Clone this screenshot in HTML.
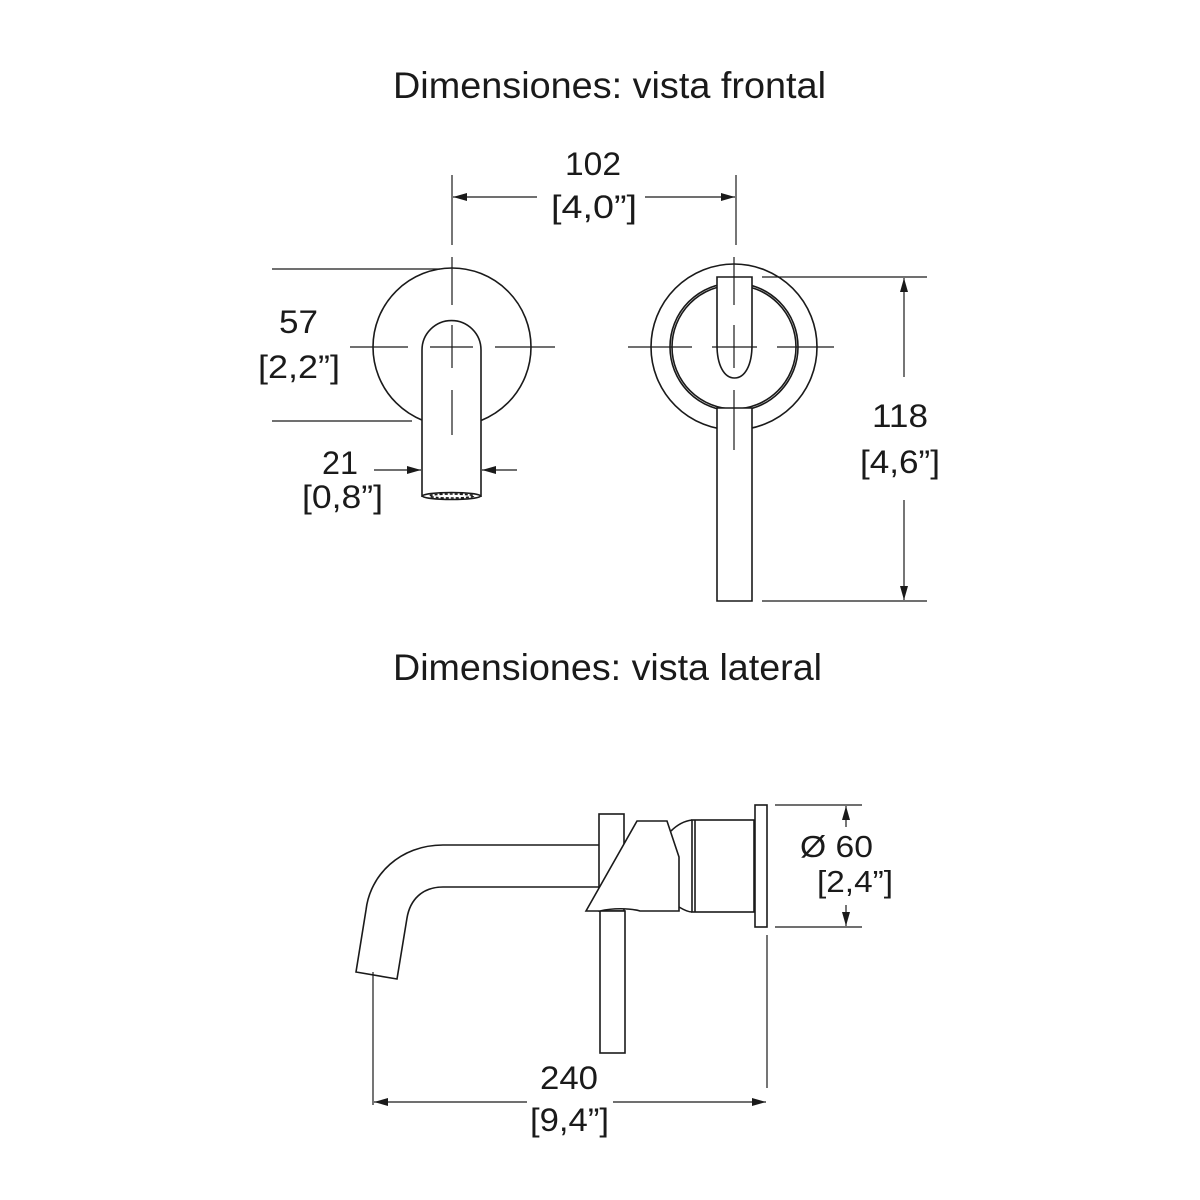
<!DOCTYPE html>
<html><head><meta charset="utf-8"><style>
html,body{margin:0;padding:0;background:#fff;}
svg{display:block;}
text{font-family:"Liberation Sans",Arial,sans-serif;fill:#1a1a1a;}
</style></head><body>
<svg width="1200" height="1200" viewBox="0 0 1200 1200" xmlns="http://www.w3.org/2000/svg">
<defs>
<marker id="a" viewBox="0 0 14 8" refX="14" refY="4" markerWidth="14" markerHeight="8" markerUnits="userSpaceOnUse" orient="auto">
<path d="M0,0 L14,4 L0,8 Z" fill="#1a1a1a"/></marker>
</defs>
<rect width="1200" height="1200" fill="#fff"/>
<g fill="none" stroke="#1a1a1a" stroke-width="1.6">
<!-- FRONT LEFT: spout -->
<circle cx="452" cy="347" r="79"/>
<path d="M422,497 L422,350 A29.5,29.5 0 0 1 481,350 L481,497" fill="#fff"/>
<ellipse cx="451.5" cy="496" rx="29" ry="3.5"/>
<ellipse cx="451.5" cy="496" rx="22" ry="2" stroke-dasharray="3 2"/>
<g stroke-width="1.2">
<line x1="452" y1="257" x2="452" y2="305"/><line x1="452" y1="325" x2="452" y2="368"/><line x1="452" y1="390" x2="452" y2="435"/>
<line x1="350" y1="347" x2="408" y2="347"/><line x1="430" y1="347" x2="473" y2="347"/><line x1="495" y1="347" x2="555" y2="347"/>
<line x1="272" y1="269" x2="440" y2="269"/><line x1="272" y1="421" x2="412" y2="421"/>
<line x1="374" y1="470" x2="421" y2="470" marker-end="url(#a)"/>
<line x1="517" y1="470" x2="482" y2="470" marker-end="url(#a)"/>
<!-- 102 -->
<line x1="452" y1="175" x2="452" y2="245"/><line x1="736" y1="175" x2="736" y2="245"/>
<line x1="537" y1="197" x2="453" y2="197" marker-end="url(#a)"/>
<line x1="645" y1="197" x2="735" y2="197" marker-end="url(#a)"/>
</g>
<!-- FRONT RIGHT: handle -->
<circle cx="734" cy="347" r="83"/>
<circle cx="734" cy="347" r="64"/>
<circle cx="734" cy="347" r="62"/>
<path d="M717,408 L752,408 L752,601 L717,601 Z" fill="#fff"/>
<path d="M717,277 L752,277 L752,345 C752,365 745,378 734.5,378 C724,378 717,365 717,345 Z" fill="#fff"/>
<g stroke-width="1.2">
<line x1="734" y1="257" x2="734" y2="305"/><line x1="734" y1="325" x2="734" y2="368"/><line x1="734" y1="390" x2="734" y2="450"/>
<line x1="628" y1="347" x2="692" y2="347"/><line x1="712" y1="347" x2="757" y2="347"/><line x1="777" y1="347" x2="834" y2="347"/>
<line x1="762" y1="277" x2="927" y2="277"/><line x1="762" y1="601" x2="927" y2="601"/>
<line x1="904" y1="377" x2="904" y2="278" marker-end="url(#a)"/>
<line x1="904" y1="500" x2="904" y2="600" marker-end="url(#a)"/>
</g>
<!-- SIDE VIEW -->
<path d="M599,845 L443,845 C400,845 370,875 366,910 L356,972 L397,979 L407,918 C410,900 422,887 443,887 L599,887"/>
<rect x="599" y="814" width="25" height="97" fill="#fff"/>
<rect x="600" y="911" width="25" height="142" fill="#fff"/>
<path d="M586,911 L637,821 L667,821 L679,857 L679,911 L640,911 C630,908 612,908 600,911 Z" fill="#fff"/>
<path d="M671,831 C677,825 684,821 692,820 M679,907 C684,910 688,912 692,912"/>
<rect x="692" y="820" width="62" height="92"/>
<line x1="695" y1="820" x2="695" y2="912"/>
<rect x="755" y="805" width="12" height="122"/>
<g stroke-width="1.2">
<line x1="373" y1="972" x2="373" y2="1105"/>
<line x1="767" y1="935" x2="767" y2="1088"/>
<line x1="527" y1="1102" x2="374" y2="1102" marker-end="url(#a)"/>
<line x1="613" y1="1102" x2="766" y2="1102" marker-end="url(#a)"/>
<line x1="775" y1="805" x2="862" y2="805"/><line x1="775" y1="927" x2="862" y2="927"/>
<line x1="846" y1="827" x2="846" y2="806" marker-end="url(#a)"/>
<line x1="846" y1="905" x2="846" y2="926" marker-end="url(#a)"/>
</g>
</g>
<g lengthAdjust="spacingAndGlyphs">
<text x="393" y="98" font-size="37" textLength="433" lengthAdjust="spacingAndGlyphs">Dimensiones: vista frontal</text>
<text x="393" y="680" font-size="37" textLength="429" lengthAdjust="spacingAndGlyphs">Dimensiones: vista lateral</text>
<text x="565" y="175" font-size="32" textLength="56" lengthAdjust="spacingAndGlyphs">102</text>
<text x="551" y="218" font-size="32" textLength="86" lengthAdjust="spacingAndGlyphs">[4,0”]</text>
<text x="279" y="333" font-size="32" textLength="39" lengthAdjust="spacingAndGlyphs">57</text>
<text x="258" y="378" font-size="32" textLength="82" lengthAdjust="spacingAndGlyphs">[2,2”]</text>
<text x="322" y="474" font-size="32" textLength="36" lengthAdjust="spacingAndGlyphs">21</text>
<text x="302" y="508" font-size="32" textLength="81" lengthAdjust="spacingAndGlyphs">[0,8”]</text>
<text x="872" y="427" font-size="32" textLength="56" lengthAdjust="spacingAndGlyphs">118</text>
<text x="860" y="473" font-size="32" textLength="80" lengthAdjust="spacingAndGlyphs">[4,6”]</text>
<text x="800" y="857" font-size="31" textLength="73" lengthAdjust="spacingAndGlyphs">Ø 60</text>
<text x="817" y="892" font-size="31" textLength="76" lengthAdjust="spacingAndGlyphs">[2,4”]</text>
<text x="540" y="1089" font-size="32" textLength="58" lengthAdjust="spacingAndGlyphs">240</text>
<text x="530" y="1131" font-size="32" textLength="79" lengthAdjust="spacingAndGlyphs">[9,4”]</text>
</g>
</svg>
</body></html>
